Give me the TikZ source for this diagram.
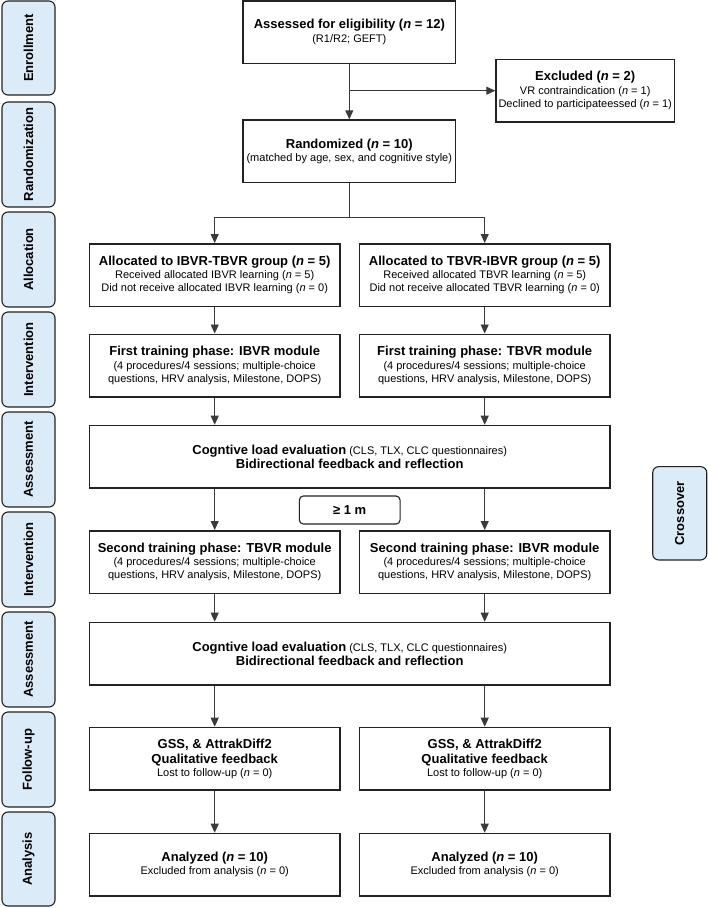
\documentclass[tikz,border=0pt]{standalone}
\usepackage{fontspec}
\setmainfont{Liberation Sans}
\usetikzlibrary{arrows.meta}
\definecolor{lblfill}{HTML}{DCEBF8}
\definecolor{lineclr}{HTML}{3A3A3A}
\definecolor{boxclr}{HTML}{222222}
\newcommand\ttl[1]{{\fontsize{13}{13.6}\selectfont\bfseries #1}}
\newcommand\nn{\textit{n}}
\tikzset{
  box/.style={draw=boxclr, line width=1.5pt, fill=white, align=center,
    minimum width=250.7pt, minimum height=62.5pt, inner sep=0pt,
    text=black, font=\fontsize{11}{13.4}\selectfont},
  lbl/.style={draw=boxclr, line width=1.1pt, fill=lblfill, rounded corners=6pt,
    rotate=90, minimum height=53pt, inner sep=0pt,
    font=\fontsize{13}{14}\selectfont\bfseries},
  arr/.style={draw=lineclr, line width=0.9pt, -{Triangle[length=9pt,width=8pt]}},
  conn/.style={draw=lineclr, line width=0.9pt}
}
\begin{document}
\begin{tikzpicture}[x=1pt,y=-1pt]
\fill[white] (0,0) rectangle (708,908);
\useasboundingbox (0,0) rectangle (708,908);

% stage labels
\node[lbl, minimum width=94pt]  (l1) at (28.5,48)    {Enrollment};
\node[lbl, minimum width=105pt] (l2) at (28.5,154.5) {Randomization};
\node[lbl, minimum width=95pt]  (l3) at (28.5,259.5) {Allocation};
\node[lbl, minimum width=95pt]  (l4) at (28.5,359.5) {Intervention};
\node[lbl, minimum width=95pt]  (l5) at (28.5,459.5) {Assessment};
\node[lbl, minimum width=95pt]  (l6) at (28.5,559.5) {Intervention};
\node[lbl, minimum width=95pt]  (l7) at (28.5,659.5) {Assessment};
\node[lbl, minimum width=95pt]  (l8) at (28.5,759.5) {Follow-up};
\node[lbl, minimum width=94pt]  (l9) at (28.5,859)   {Analysis};
\node[lbl, minimum width=93.3pt, minimum height=54pt] (cross) at (679.7,513.3) {Crossover};

% boxes
\node[box, minimum width=212.7pt] (assess) at (349.3,32)
  {\ttl{Assessed for eligibility (\nn{} = 12)}\\(R1/R2; GEFT)};
\node[box, minimum width=212.7pt] (rand) at (349.3,151.3)
  {\ttl{Randomized (\nn{} = 10)}\\(matched by age, sex, and cognitive style)};
\node[box, minimum width=178.3pt] (excl) at (585.2,90.7)
  {\ttl{Excluded (\nn{} = 2)}\\VR contraindication (\nn{} = 1)\\Declined to participateessed (\nn{} = 1)};

\node[box] (allocL) at (214.7,275)
  {\ttl{Allocated to IBVR-TBVR group (\nn{} = 5)}\\Received allocated IBVR learning (\nn{} = 5)\\Did not receive allocated IBVR learning (\nn{} = 0)};
\node[box] (allocR) at (484.7,275)
  {\ttl{Allocated to TBVR-IBVR group (\nn{} = 5)}\\Received allocated TBVR learning (\nn{} = 5)\\Did not receive allocated TBVR learning (\nn{} = 0)};

\node[box] (int1L) at (214.7,365.5)
  {\ttl{First training phase: IBVR module}\\(4 procedures/4 sessions; multiple-choice\\questions, HRV analysis, Milestone, DOPS)};
\node[box] (int1R) at (484.7,365.5)
  {\ttl{First training phase: TBVR module}\\(4 procedures/4 sessions; multiple-choice\\questions, HRV analysis, Milestone, DOPS)};

\node[box, minimum width=520.7pt] (ass1) at (349.7,456.7)
  {\ttl{Cogntive load evaluation} (CLS, TLX, CLC questionnaires)\\[1pt]\ttl{Bidirectional feedback and reflection}};

\node[draw=boxclr, line width=1.1pt, rounded corners=4pt, fill=white,
  minimum width=100.7pt, minimum height=28pt, inner sep=0pt] (gap) at (349.7,510)
  {\ttl{≥ 1 m}};

\node[box] (int2L) at (214.7,562)
  {\ttl{Second training phase: TBVR module}\\(4 procedures/4 sessions; multiple-choice\\questions, HRV analysis, Milestone, DOPS)};
\node[box] (int2R) at (484.7,562)
  {\ttl{Second training phase: IBVR module}\\(4 procedures/4 sessions; multiple-choice\\questions, HRV analysis, Milestone, DOPS)};

\node[box, minimum width=520.7pt] (ass2) at (349.7,653.7)
  {\ttl{Cogntive load evaluation} (CLS, TLX, CLC questionnaires)\\[1pt]\ttl{Bidirectional feedback and reflection}};

\node[box] (fuL) at (214.7,758.7)
  {\ttl{GSS, \& AttrakDiff2}\\[1.5pt]\ttl{Qualitative feedback}\\Lost to follow-up (\nn{} = 0)};
\node[box] (fuR) at (484.7,758.7)
  {\ttl{GSS, \& AttrakDiff2}\\[1.5pt]\ttl{Qualitative feedback}\\Lost to follow-up (\nn{} = 0)};

\node[box] (anL) at (214.7,864.7)
  {\ttl{Analyzed (\nn{} = 10)}\\Excluded from analysis (\nn{} = 0)};
\node[box] (anR) at (484.7,864.7)
  {\ttl{Analyzed (\nn{} = 10)}\\Excluded from analysis (\nn{} = 0)};

% connectors
\draw[arr] (assess.south) -- (rand.north);
\coordinate (exsplit) at (assess.south |- excl.west);
\draw[arr] (exsplit) -- (excl.west);
\coordinate (split) at ([yshift=-34.6pt]rand.south);
\draw[conn] (rand.south) -- (split);
\draw[arr] (split) -| (allocL.north);
\draw[arr] (split) -| (allocR.north);
\draw[arr] (allocL.south) -- (int1L.north);
\draw[arr] (allocR.south) -- (int1R.north);
\draw[arr] (int1L.south) -- (int1L.south |- ass1.north);
\draw[arr] (int1R.south) -- (int1R.south |- ass1.north);
\draw[arr] (int2L.north |- ass1.south) -- (int2L.north);
\draw[arr] (int2R.north |- ass1.south) -- (int2R.north);
\draw[arr] (int2L.south) -- (int2L.south |- ass2.north);
\draw[arr] (int2R.south) -- (int2R.south |- ass2.north);
\draw[arr] (fuL.north |- ass2.south) -- (fuL.north);
\draw[arr] (fuR.north |- ass2.south) -- (fuR.north);
\draw[arr] (fuL.south) -- (anL.north);
\draw[arr] (fuR.south) -- (anR.north);
\end{tikzpicture}
\end{document}
